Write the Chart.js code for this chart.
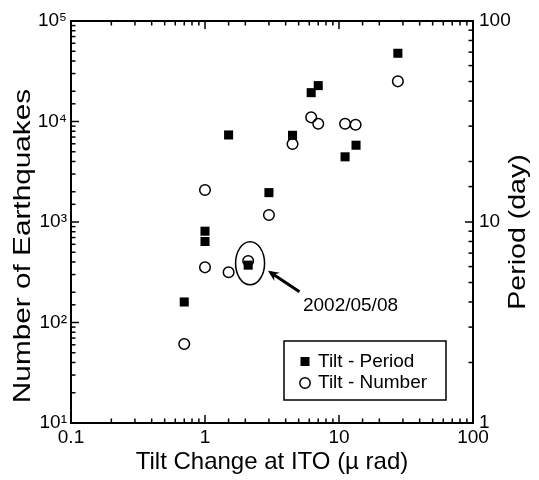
<!DOCTYPE html>
<html><head><meta charset="utf-8">
<script src="https://cdn.jsdelivr.net/npm/chart.js@4/dist/chart.umd.min.js"></script>
<style>html,body{margin:0;padding:0;background:#fff}#wrap{width:539px;height:480px;position:relative}</style>
</head><body><div id="wrap"><canvas id="c" width="539" height="480"></canvas></div>
<script>
// ---- data ----
const tiltPeriodX = [0.70, 1.0, 1.0, 1.5, 2.1, 3.0, 4.5, 6.2, 7.0, 11.1, 13.4, 27.5];
const periodDays  = [4.0, 9.0, 8.0, 27.1, 6.1, 14.0, 27.0, 44.0, 47.7, 21.1, 24.1, 69.1];
const tiltNumberX = [0.70, 1.0, 1.0, 1.5, 2.1, 3.0, 4.5, 6.2, 7.0, 11.1, 13.3, 27.5];
const quakeCounts = [61, 2080, 354, 316, 409, 1175, 5970, 11000, 9500, 9500, 9290, 25100];
const seriesNames = ['Tilt - Period', 'Tilt - Number'];
const xTickLabels = ['0.1', '1', '10', '100'];
const yLeftTickLabels = ['10\u00B9', '10\u00B2', '10\u00B3', '10\u2074', '10\u2075'];
const yRightTickLabels = ['1', '10', '100'];
const xTitle = 'Tilt Change at ITO (\u00B5 rad)';
const yLeftTitle = 'Number of Earthquakes';
const yRightTitle = 'Period (day)';
const noteText = '2002/05/08';

// annotation anchors (data coordinates: x = tilt, y = number of earthquakes)
const ellipseAt = {x: 2.17, y: 388};
const arrowTail = {x: 5.07, y: 202};
const arrowHead = {x: 2.95, y: 327};
const noteAt = {x: 5.38, y: 148};

const FONT = "'Liberation Sans', Arial, Helvetica, sans-serif";

function isPow10(v) { const e = Math.log10(v); return Math.abs(e - Math.round(e)) < 1e-6; }

const tickLabel = (labels, minExp) => (v) => {
  if (!isPow10(v)) return '';
  const i = Math.round(Math.log10(v)) - minExp;
  return labels[i] !== undefined ? labels[i] : '';
};

const framePlugin = {
  id: 'frameTicks',
  afterDraw(chart) {
    const {ctx, chartArea: a, scales} = chart;
    ctx.save();
    ctx.strokeStyle = '#000';
    ctx.lineWidth = 2;
    ctx.strokeRect(a.left, a.top, a.right - a.left, a.bottom - a.top);
    ctx.lineWidth = 1.5;
    const MAJ = 8, MIN = 4.5;
    scales.x.ticks.forEach(t => {
      const px = scales.x.getPixelForValue(t.value);
      const L = isPow10(t.value) ? MAJ : MIN;
      ctx.beginPath();
      ctx.moveTo(px, a.bottom); ctx.lineTo(px, a.bottom - L);
      ctx.moveTo(px, a.top); ctx.lineTo(px, a.top + L);
      ctx.stroke();
    });
    scales.y.ticks.forEach(t => {
      const py = scales.y.getPixelForValue(t.value);
      const L = isPow10(t.value) ? MAJ : MIN;
      ctx.beginPath(); ctx.moveTo(a.left, py); ctx.lineTo(a.left + L, py); ctx.stroke();
    });
    scales.y1.ticks.forEach(t => {
      const py = scales.y1.getPixelForValue(t.value);
      const L = isPow10(t.value) ? MAJ : MIN;
      ctx.beginPath(); ctx.moveTo(a.right, py); ctx.lineTo(a.right - L, py); ctx.stroke();
    });

    // y axis titles (rotated)
    ctx.fillStyle = '#000';
    ctx.font = '24px ' + FONT;
    ctx.textAlign = 'center';
    ctx.textBaseline = 'middle';
    const midY = (a.top + a.bottom) / 2;
    ctx.save();
    ctx.translate(a.left - 48, midY + 24);
    ctx.rotate(-Math.PI / 2);
    ctx.scale(1.24, 1);
    ctx.fillText(yLeftTitle, 0, 0);
    ctx.restore();
    ctx.save();
    ctx.translate(a.right + 45, midY + 10);
    ctx.rotate(-Math.PI / 2);
    ctx.scale(1.19, 1);
    ctx.fillText(yRightTitle, 0, 0);
    ctx.restore();

    // annotation: ellipse, arrow, date
    const sx = scales.x, sy = scales.y;
    const ex = sx.getPixelForValue(ellipseAt.x), ey = sy.getPixelForValue(ellipseAt.y);
    ctx.lineWidth = 1.5;
    ctx.beginPath(); ctx.ellipse(ex, ey, 14.5, 21.5, 0, 0, Math.PI * 2); ctx.stroke();
    const tx = sx.getPixelForValue(arrowTail.x), ty = sy.getPixelForValue(arrowTail.y);
    const hx = sx.getPixelForValue(arrowHead.x), hy = sy.getPixelForValue(arrowHead.y);
    const ang = Math.atan2(hy - ty, hx - tx);
    ctx.lineWidth = 3;
    ctx.lineCap = 'butt';
    ctx.beginPath(); ctx.moveTo(tx, ty); ctx.lineTo(hx - 3 * Math.cos(ang), hy - 3 * Math.sin(ang)); ctx.stroke();
    ctx.beginPath();
    const AL = 12, AW = 0.42;
    ctx.moveTo(hx, hy);
    ctx.lineTo(hx - AL * Math.cos(ang - AW), hy - AL * Math.sin(ang - AW));
    ctx.lineTo(hx - AL * 0.6 * Math.cos(ang), hy - AL * 0.6 * Math.sin(ang));
    ctx.lineTo(hx - AL * Math.cos(ang + AW), hy - AL * Math.sin(ang + AW));
    ctx.closePath(); ctx.fill();
    ctx.font = '19px ' + FONT;
    ctx.textAlign = 'left';
    ctx.fillText(noteText, sx.getPixelForValue(noteAt.x), sy.getPixelForValue(noteAt.y));

    // legend box (bottom-right inside plot)
    const ds = chart.data.datasets;
    const bx0 = a.right - 189, by0 = a.bottom - 82, bw = 162, bh = 59;
    ctx.lineWidth = 1.5;
    ctx.strokeRect(bx0, by0, bw, bh);
    ctx.font = '19px ' + FONT;
    ds.forEach((d, i) => {
      const cy = by0 + 20.5 + i * 21.5;
      const mx = bx0 + 21;
      if (d.pointStyle === 'rect') {
        ctx.fillRect(mx - 4.5, cy - 4.5, 9, 9);
      } else {
        ctx.beginPath(); ctx.arc(mx, cy, 5.2, 0, Math.PI * 2); ctx.stroke();
      }
      ctx.fillText(d.label, bx0 + 34, cy);
    });
    ctx.restore();
  }
};

const tickFont = {family: FONT, size: 19};

new Chart(document.getElementById('c'), {
  type: 'scatter',
  data: {
    datasets: [
      {
        label: seriesNames[0],
        data: tiltPeriodX.map((x, i) => ({x, y: periodDays[i]})),
        yAxisID: 'y1',
        pointStyle: 'rect',
        pointRadius: 6.4,
        backgroundColor: '#000',
        borderColor: '#000',
        borderWidth: 0
      },
      {
        label: seriesNames[1],
        data: tiltNumberX.map((x, i) => ({x, y: quakeCounts[i]})),
        yAxisID: 'y',
        pointStyle: 'circle',
        pointRadius: 5.3,
        backgroundColor: 'rgba(0,0,0,0)',
        borderColor: '#000',
        borderWidth: 1.5
      }
    ]
  },
  options: {
    responsive: false,
    animation: false,
    events: [],
    layout: {padding: {top: 21, left: 0, right: 0, bottom: 0}},
    plugins: {legend: {display: false}, tooltip: {enabled: false}},
    scales: {
      x: {
        type: 'logarithmic', position: 'bottom', min: 0.1, max: 100,
        grid: {display: false, drawTicks: false}, border: {display: false},
        ticks: {autoSkip: false, maxRotation: 0, padding: 3, color: '#000', font: tickFont,
                callback: tickLabel(xTickLabels, -1)},
        title: {display: true, text: xTitle, color: '#000', font: {family: FONT, size: 24}, padding: {top: 0, bottom: 3}},
        afterFit: s => { s.height = 57; }
      },
      y: {
        type: 'logarithmic', position: 'left', min: 10, max: 100000,
        grid: {display: false, drawTicks: false}, border: {display: false},
        ticks: {autoSkip: false, padding: 4, color: '#000', font: tickFont,
                callback: tickLabel(yLeftTickLabels, 1)},
        afterFit: s => { s.width = 71; }
      },
      y1: {
        type: 'logarithmic', position: 'right', min: 1, max: 100,
        grid: {display: false, drawTicks: false}, border: {display: false},
        ticks: {autoSkip: false, padding: 6, color: '#000', font: tickFont,
                callback: tickLabel(yRightTickLabels, 0)},
        afterFit: s => { s.width = 66; }
      }
    }
  },
  plugins: [framePlugin]
});
</script>
</body></html>
